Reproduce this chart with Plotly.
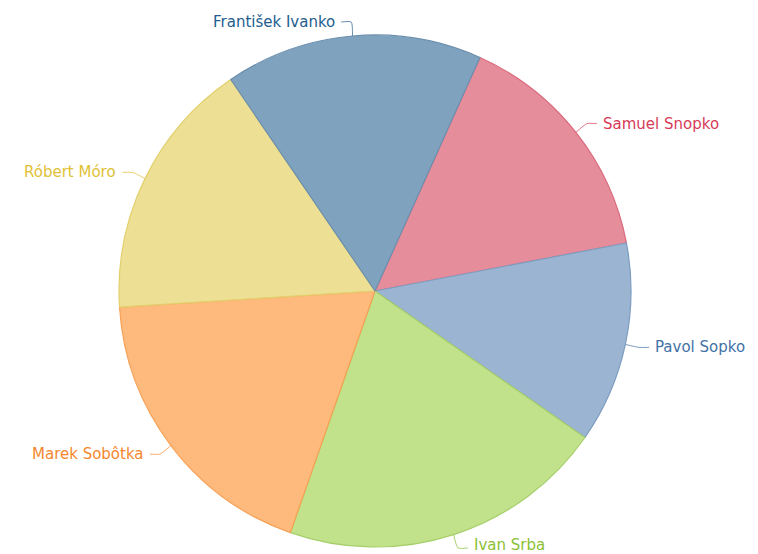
import math
import plotly.graph_objects as go

# Data
names = ["Samuel Snopko", "Pavol Sopko", "Ivan Srba", "Marek Sobôtka", "Róbert Móro", "František Ivanko"]
values = [55.0, 45.7, 74.4, 67.1, 59.3, 58.5]
fill_colors = ["#E68D9B", "#9AB4D1", "#C1E18B", "#FDBA7C", "#EDDF93", "#7FA3BF"]
edge_colors = ["#DA6A7D", "#7E9DC2", "#A6CF6A", "#F7A055", "#E2CF6C", "#6C8FAE"]
text_colors = ["#D63B57", "#4372A6", "#8CBF36", "#F5872D", "#E1C136", "#245D8E"]

W, H = 758, 554
OFF = 8  # page body margin offset
cx, cy, R = 375 - OFF, 291 - OFF, 256
start_angle = 24.2

fig = go.Figure()
fig.add_trace(go.Pie(
    labels=names, values=values, sort=False, direction="clockwise",
    rotation=start_angle, textinfo="none", showlegend=False,
    marker=dict(colors=fill_colors, line=dict(color=edge_colors, width=1.2)),
    domain=dict(x=[(cx - R) / W, (cx + R) / W], y=[1 - (cy + R) / H, 1 - (cy - R) / H]),
    hoverinfo="label+percent",
))

total = sum(values)
acc = 0.0
annotations = []
for name, v, tc in zip(names, values, text_colors):
    mid = start_angle + (acc + v / 2) / total * 360
    acc += v
    a = math.radians(mid)
    sx, sy = math.sin(a), -math.cos(a)
    x0, y0 = cx + R * sx, cy + R * sy
    x1, y1 = cx + (R + 14) * sx, cy + (R + 14) * sy
    side = 1 if sx >= 0 else -1
    x2 = x1 + side * 10
    fig.add_trace(go.Scatter(
        x=[x0, x1, x2], y=[y0, y1, y1], mode="lines",
        line=dict(color=tc, width=1, shape="spline", smoothing=0.6),
        opacity=0.7, hoverinfo="skip", showlegend=False,
    ))
    ty = min(y1, H - OFF - 9)
    annotations.append(dict(
        x=x2 + side * 4, y=ty, xref="x", yref="y", text=name, showarrow=False,
        xanchor="left" if side > 0 else "right", yanchor="middle",
        font=dict(family="DejaVu Sans, Verdana, sans-serif", size=15, color=tc),
    ))

fig.update_layout(
    width=W, height=H,
    margin=dict(l=0, r=0, t=0, b=0),
    paper_bgcolor="white", plot_bgcolor="rgba(0,0,0,0)",
    xaxis=dict(range=[0, W], visible=False, fixedrange=True),
    yaxis=dict(range=[H, 0], visible=False, fixedrange=True),
    annotations=annotations,
)
fig.write_html("out.html")
